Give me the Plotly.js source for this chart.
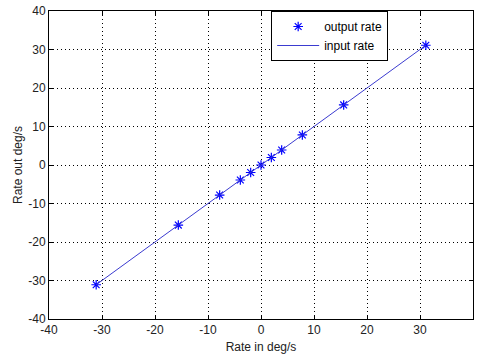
<!DOCTYPE html>
<html>
<head>
<meta charset="utf-8">
<script src="https://cdn.plot.ly/plotly-3.0.1.min.js"></script>
<style>html,body{margin:0;padding:0;background:#fff;}#chart{width:478px;height:354px;}</style>
</head>
<body>
<div id="chart"></div>
<script>
const rateIn = [-31.1, -15.6, -7.8, -3.9, -1.95, 0, 1.95, 3.9, 7.8, 15.6, 31.1];
const rateOut = [-31.1, -15.6, -7.8, -3.9, -1.95, 0, 1.95, 3.9, 7.8, 15.6, 31.1];
const inputRate = [-31.1, -15.6, -7.8, -3.9, -1.95, 0, 1.95, 3.9, 7.8, 15.6, 31.1];
const tickVals = [-40, -30, -20, -10, 0, 10, 20, 30, 40];

const FONT = 'Liberation Sans, Arial, sans-serif';
const axisCommon = {
  range: [-40, 40],
  tickvals: tickVals,
  ticktext: tickVals.map(String),
  showgrid: true,
  gridcolor: '#000',
  griddash: '1px,3px',
  gridwidth: 1,
  zeroline: false,
  showline: true,
  linecolor: '#000',
  linewidth: 1,
  mirror: 'ticks',
  ticks: 'inside',
  ticklen: 4,
  tickcolor: '#000',
  tickfont: {family: FONT, size: 12, color: '#222'}
};

const data = [
  {
    x: rateIn, y: rateOut, mode: 'markers', name: 'output rate',
    marker: {symbol: 'asterisk-open', size: 8, color: '#0000ff', line: {color: '#0000ff', width: 1.2}}
  },
  {
    x: rateIn, y: inputRate, mode: 'lines', name: 'input rate',
    line: {color: '#3b3bd0', width: 1}
  }
];

const layout = {
  width: 478, height: 354,
  margin: {l: 49, r: 5, t: 11, b: 35},
  paper_bgcolor: '#fff', plot_bgcolor: '#fff',
  font: {family: FONT, size: 12, color: '#222'},
  xaxis: Object.assign({}, axisCommon, {title: {text: 'Rate in deg/s', standoff: 6, font: {size: 12}}}),
  yaxis: Object.assign({}, axisCommon, {title: {text: 'Rate out deg/s', standoff: 3, font: {size: 12}}}),
  showlegend: true,
  legend: {
    x: 0.524, y: 1, xanchor: 'left', yanchor: 'top',
    bgcolor: '#fff', bordercolor: '#000', borderwidth: 1,
    font: {family: FONT, size: 12, color: '#000'},
    tracegroupgap: 0, itemwidth: 42
  }
};

Plotly.newPlot('chart', data, layout, {displayModeBar: false, staticPlot: true});
</script>
</body>
</html>
